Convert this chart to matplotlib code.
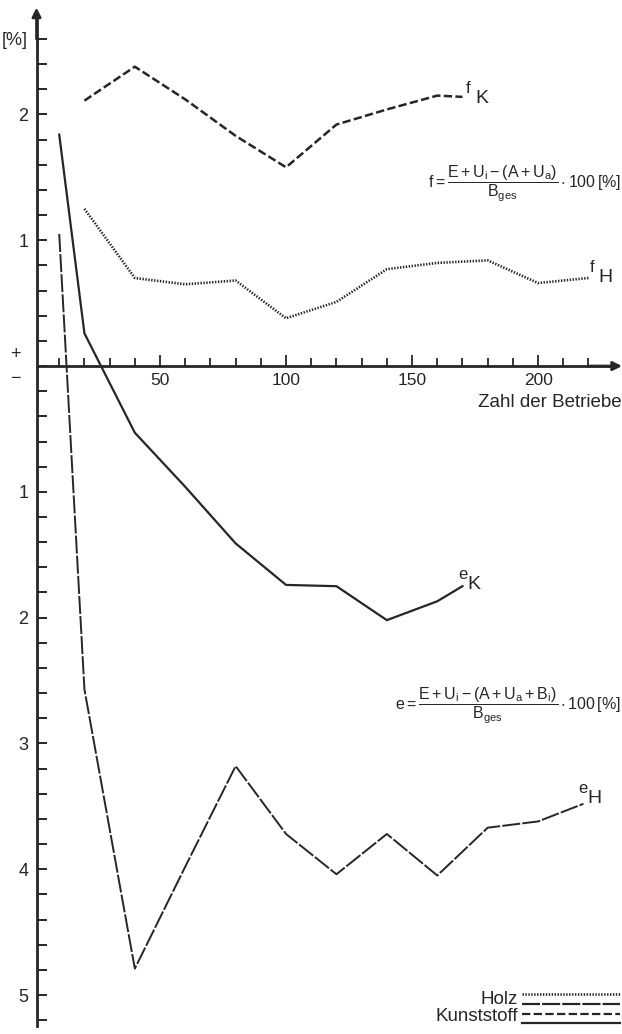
import numpy as np
import matplotlib
matplotlib.use("Agg")
import matplotlib.pyplot as plt
from matplotlib.ticker import FixedLocator, FuncFormatter

plt.rcParams['font.family'] = ['Liberation Sans', 'DejaVu Sans']
plt.rcParams['mathtext.fontset'] = 'custom'
plt.rcParams['mathtext.rm'] = 'Liberation Sans'
plt.rcParams['mathtext.it'] = 'Liberation Sans'
plt.rcParams['mathtext.bf'] = 'Liberation Sans:bold'
plt.rcParams['mathtext.default'] = 'regular'
plt.rcParams['lines.scale_dashes'] = False

# ---- data ----
x_fK = [20, 40, 60, 80, 100, 120, 140, 160, 170]
fK = [2.11, 2.38, 2.12, 1.83, 1.58, 1.92, 2.04, 2.15, 2.14]

x_fH = [20, 40, 60, 80, 100, 120, 140, 160, 180, 200, 220]
fH = [1.25, 0.70, 0.65, 0.68, 0.38, 0.51, 0.77, 0.82, 0.84, 0.66, 0.70]

x_eK = [10, 20, 40, 60, 80, 100, 120, 140, 160, 170]
eK = [1.84, 0.26, -0.53, -0.96, -1.41, -1.74, -1.75, -2.02, -1.87, -1.75]

x_eH = [10, 20, 40, 60, 80, 100, 120, 140, 160, 180, 200, 218]
eH = [1.05, -2.57, -4.79, -3.98, -3.18, -3.72, -4.04, -3.72, -4.05, -3.67, -3.62, -3.48]

x_major = [50, 100, 150, 200]
x_minor = [v for v in range(10, 221, 10) if v not in x_major]
y_ticks = np.round(np.arange(-5.2, 2.61, 0.2), 1)

C = '#262626'

fig = plt.figure(figsize=(6.22, 10.34), dpi=100)
ax = fig.add_axes([0, 0, 1, 1])
ax.set_xlim(-13.5, 233.3)
ax.set_ylim(-5.31, 2.91)
ax.patch.set_alpha(0)

# axes / spines
for s in ['top', 'right']:
    ax.spines[s].set_visible(False)
ax.spines['left'].set_position(('data', 1))
ax.spines['bottom'].set_position(('data', 0))
ax.spines['left'].set_bounds(-5.25, 2.78)
ax.spines['bottom'].set_bounds(1, 229)
ax.spines['left'].set_linewidth(2.0)
ax.spines['bottom'].set_linewidth(2.0)
ax.spines['left'].set_color(C)
ax.spines['bottom'].set_color(C)

arrow_kw = dict(arrowstyle='-|>', lw=2.0, color=C, mutation_scale=13, shrinkA=0, shrinkB=0)
ax.annotate('', xy=(1, 2.85), xytext=(1, 2.6), arrowprops=arrow_kw)
ax.annotate('', xy=(1, -5.33), xytext=(1, -5.1), arrowprops=arrow_kw)
ax.annotate('', xy=(233.3, 0), xytext=(220, 0), arrowprops=arrow_kw)

# y ticks
ax.yaxis.set_major_locator(FixedLocator(y_ticks))
def yfmt(v, pos):
    if abs(v - 2.6) < 1e-6:
        return '[%]'
    if abs(v - round(v)) < 1e-6 and round(v) != 0:
        return str(abs(int(round(v))))
    return ''
ax.yaxis.set_major_formatter(FuncFormatter(yfmt))
ax.tick_params(axis='y', direction='in', length=7, width=1.4, pad=6,
               labelsize=13, colors=C)

# x ticks
ax.xaxis.set_major_locator(FixedLocator(x_major))
ax.xaxis.set_minor_locator(FixedLocator(x_minor))
ax.tick_params(axis='x', which='major', direction='in', length=8, width=1.3,
               pad=5, labelsize=12.5, colors=C)
ax.tick_params(axis='x', which='minor', direction='in', length=5.5, width=1.3, colors=C)

# curves
ax.plot(x_fK, fK, color=C, lw=1.8, dashes=(6, 2.4))
ax.plot(x_fH, fH, color=C, lw=1.9, dashes=(1.0, 1.1))
ax.plot(x_eK, eK, color=C, lw=1.6)
ax.plot(x_eH, eH, color=C, lw=1.4, dashes=(13, 1.5))

# curve labels
def curve_label(x, y, small, big):
    ax.text(x, y + 0.08, small, fontsize=12, color=C, ha='left', va='center')
    ax.text(x + 3.5, y, big, fontsize=14, color=C, ha='left', va='center')

curve_label(171.5, 2.13, 'f', 'K')
curve_label(220.5, 0.70, 'f', 'H')
curve_label(168.5, -1.74, 'e', 'K')
curve_label(216.0, -3.44, 'e', 'H')

# +/- signs
ax.text(-7.5, 0.09, '+', fontsize=13, color=C, ha='center', va='center')
ax.text(-7.5, -0.10, '\u2212', fontsize=13, color=C, ha='center', va='center')

# axis title
ax.text(233.3, -0.29, 'Zahl der Betriebe', fontsize=13.5, color=C,
        ha='right', va='center')

# formulas
ax.text(233.0, 1.45, r'$\mathrm{f} = \dfrac{E+U_i-(A+U_a)}{B_{ges}} \cdot 100\,[\%]$',
        fontsize=11.5, color=C, ha='right', va='center')
ax.text(233.0, -2.70, r'$\mathrm{e} = \dfrac{E+U_i-(A+U_a+B_i)}{B_{ges}} \cdot 100\,[\%]$',
        fontsize=11.5, color=C, ha='right', va='center')

# legend (drawn in the lower right corner)
lx = [193.5, 232.5]
ax.plot(lx, [-4.99, -4.99], color=C, lw=1.9, dashes=(1.0, 1.1))
ax.plot(lx, [-5.07, -5.07], color=C, lw=1.6, dashes=(13, 1.5))
ax.plot(lx, [-5.15, -5.15], color=C, lw=1.6, dashes=(6, 2.4))
ax.plot(lx, [-5.22, -5.22], color=C, lw=1.6)
ax.text(192, -5.035, 'Holz', fontsize=13.5, color=C, ha='right', va='center')
ax.text(192, -5.17, 'Kunststoff', fontsize=13.5, color=C, ha='right', va='center')

fig.savefig('out.png', dpi=100, facecolor='white')
